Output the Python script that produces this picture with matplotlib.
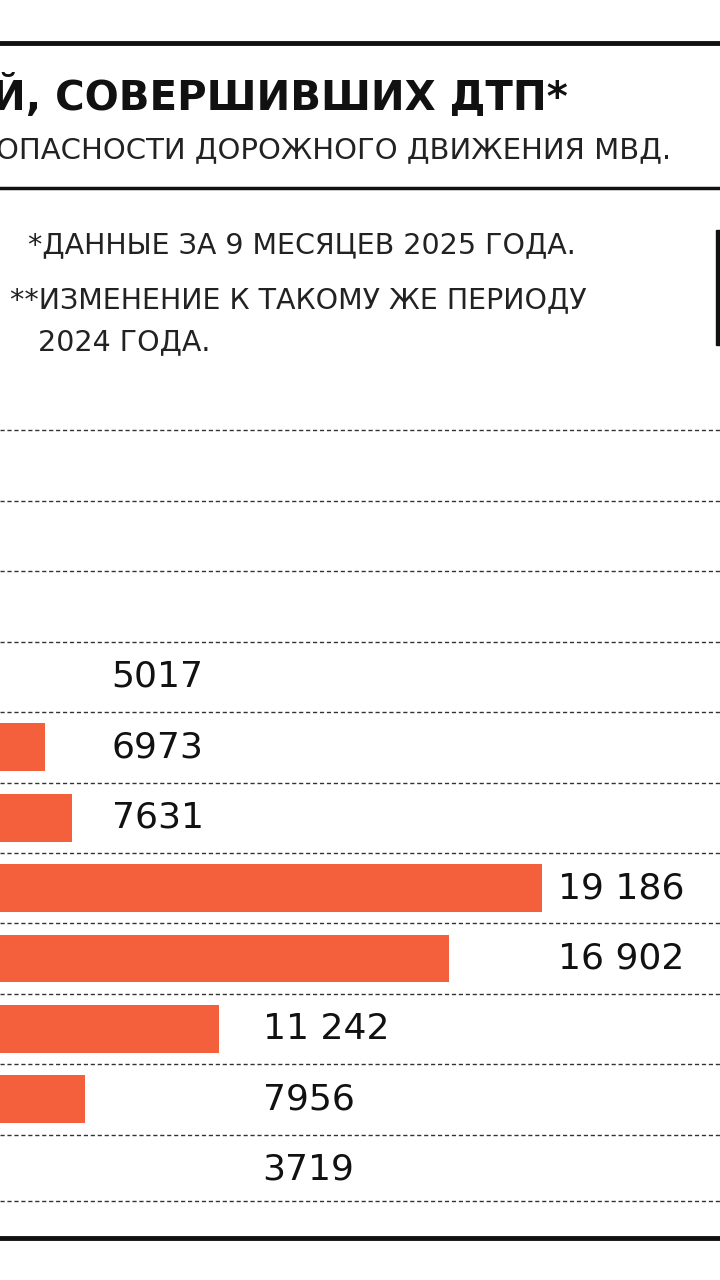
import matplotlib
matplotlib.use("Agg")
import matplotlib.pyplot as plt

values = [None, None, None, None, 5017, 6973, 7631, 19186, 16902, 11242, 7956, 3719]
labels = ["", "", "", "", "5017", "6973", "7631", "19 186", "16 902", "11 242", "7956", "3719"]
label_x = [0, 0, 0, 0, 8600, 8600, 8600, 19560, 19560, 12310, 12310, 12310]

W, H = 720, 1280
fig = plt.figure(figsize=(7.2, 12.8), dpi=100)
fig.patch.set_facecolor("white")

def fy(px):
    return 1 - px / H

fig.add_artist(plt.Line2D([0, 1], [fy(43), fy(43)], color="#111", lw=3.5))
fig.add_artist(plt.Line2D([0, 1], [fy(188), fy(188)], color="#111", lw=2.5))
fig.add_artist(plt.Line2D([0, 1], [fy(1238), fy(1238)], color="#111", lw=3.5))
fig.add_artist(plt.Rectangle((716 / W, fy(345)), 4 / W, 115 / H, color="#111"))

fig.text(-8 / W, fy(97), "Й, СОВЕРШИВШИХ ДТП*", fontsize=29, fontweight="bold",
         family="DejaVu Sans", va="center", ha="left", color="#111")
fig.text(-4 / W, fy(150), "ОПАСНОСТИ ДОРОЖНОГО ДВИЖЕНИЯ МВД.", fontsize=21,
         va="center", ha="left", color="#222")
fig.text(28 / W, fy(245), "*ДАННЫЕ ЗА 9 МЕСЯЦЕВ 2025 ГОДА.", fontsize=20.5,
         va="center", ha="left", color="#222")
fig.text(10 / W, fy(300), "**ИЗМЕНЕНИЕ К ТАКОМУ ЖЕ ПЕРИОДУ", fontsize=20.5,
         va="center", ha="left", color="#222")
fig.text(38 / W, fy(342), "2024 ГОДА.", fontsize=20.5,
         va="center", ha="left", color="#222")

ax = fig.add_axes([0, fy(1205), 1, (1205 - 360) / H])
ax.set_xlim(5860, 5860 + 720 / 0.0407)
ax.set_ylim(11.5, -0.5)
ax.axis("off")
for i in range(11):
    ax.axhline(i + 0.5, color="#333", lw=1, ls=(0, (3, 2)))
ax.axhline(11.45, color="#333", lw=1, ls=(0, (3, 2)))
for i, v in enumerate(values):
    if v is None:
        continue
    ax.barh(i, v, height=0.68, color="#f5603c")
    ax.text(label_x[i], i, labels[i], fontsize=26,
            va="center", ha="left", color="#111")

fig.savefig("out.png", dpi=100)
